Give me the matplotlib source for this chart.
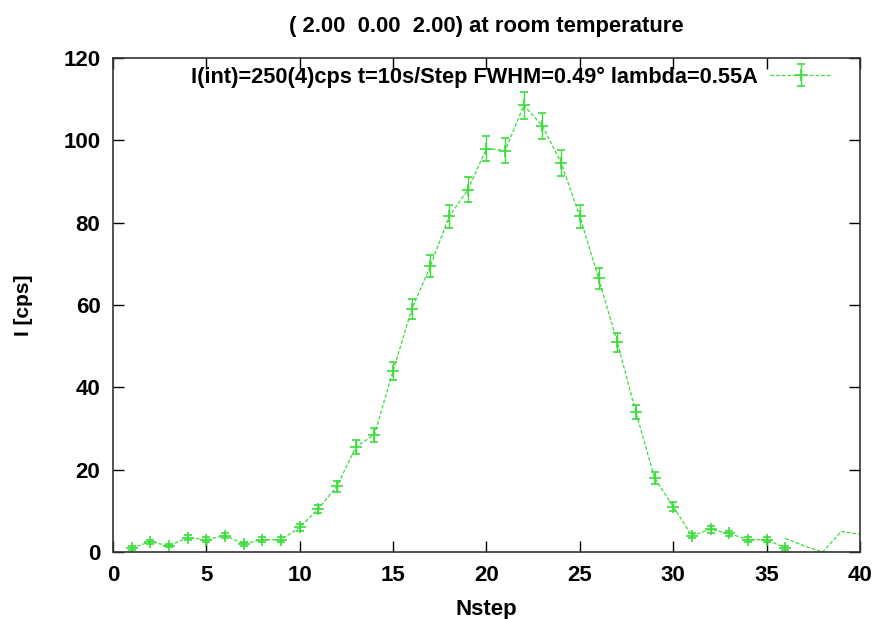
import numpy as np
import matplotlib
matplotlib.use("Agg")
import matplotlib.pyplot as plt

# ------------------- Data -------------------
nstep = list(range(1, 37))
intensity = [1.0, 2.5, 1.5, 3.5, 3.0, 4.0, 2.0, 3.0, 3.0, 6.0,
             10.5, 16.0, 25.5, 28.5, 44.0, 59.0, 69.5, 81.5, 88.0, 98.0,
             97.5, 108.5, 103.5, 94.5, 81.5, 66.5, 51.0, 34.0, 18.0, 11.0,
             4.0, 5.5, 4.5, 3.0, 3.0, 1.0]
errors = [0.4, 0.5, 0.4, 0.6, 0.6, 0.6, 0.5, 0.6, 0.6, 0.8,
          1.0, 1.3, 1.6, 1.7, 2.1, 2.4, 2.6, 2.9, 3.0, 3.1,
          3.1, 3.3, 3.2, 3.1, 2.9, 2.6, 2.3, 1.8, 1.4, 1.1,
          0.7, 0.8, 0.7, 0.6, 0.6, 0.4]

# tail without error bars
tail_step = [36, 37, 38, 39, 40]
tail_int = [3.3, 1.5, 0.0, 5.0, 4.3]

title = "( 2.00  0.00  2.00) at room temperature"
legend_label = "I(int)=250(4)cps t=10s/Step FWHM=0.49\u00b0 lambda=0.55A"
green = "#3cdc3c"

plt.rcParams['font.family'] = ['Liberation Sans', 'DejaVu Sans']

fig = plt.figure(figsize=(8.77, 6.19), dpi=100)
ax = fig.add_axes([0.1288, 0.1082, 0.8518, 0.7981])

ax.errorbar(nstep, intensity, yerr=errors, color=green, linestyle='--',
            linewidth=0.9, marker='+', markersize=8, markeredgewidth=1.2,
            elinewidth=1.0, capsize=3, capthick=1.0, label=legend_label,
            dashes=(3, 1.5))
ax.plot(tail_step, tail_int, color=green, linestyle='--', linewidth=0.9,
        dashes=(3, 1.5))

ax.set_xlim(0, 40)
ax.set_ylim(0, 120)
ax.set_xticks(np.arange(0, 41, 5))
ax.set_yticks(np.arange(0, 121, 20))
ax.tick_params(direction='in', length=8, width=1, top=True, right=True,
               labelsize=16, pad=9)
for lab in ax.get_xticklabels() + ax.get_yticklabels():
    lab.set_fontweight('bold')
for s in ax.spines.values():
    s.set_linewidth(1.2)
    s.set_color('#333333')

ax.set_xlabel("Nstep", fontsize=16, fontweight='bold', labelpad=10)
ax.set_ylabel("I [cps]", fontsize=15, fontweight='bold', labelpad=22)
fig.text(0.555, 0.957, title, fontsize=15.8, fontweight='bold',
         ha='center', va='center')

leg = ax.legend(loc='center right', bbox_to_anchor=(0.9625, 0.9615),
                frameon=False, fontsize=15.7, markerfirst=False,
                handlelength=2.85, handletextpad=0.55,
                borderpad=0, borderaxespad=0)
for t in leg.get_texts():
    t.set_fontweight('bold')

fig.savefig("out.png", dpi=100)
